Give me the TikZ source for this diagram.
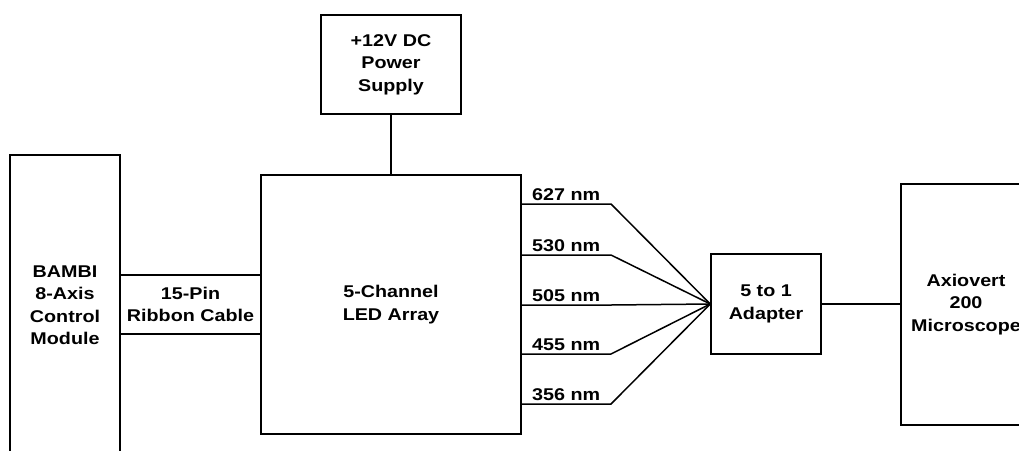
\documentclass[tikz,border=0pt]{standalone}
\usepackage{fontspec}
\setmainfont{Liberation Sans}[FakeStretch=1.16]

\tikzset{
  boite/.style={draw, line width=1.5pt, align=center, inner sep=2pt,
    font=\bfseries\fontsize{17}{22.5}\selectfont},
  onde/.style={inner sep=0pt, font=\bfseries\fontsize{17}{22.5}\selectfont},
  fil/.style={line width=1.5pt}
}

\begin{document}
\begin{tikzpicture}[x=1pt, y=-1pt]
            % Cadre
            \useasboundingbox (0,0) rectangle (1019,450);
            \clip (0,0) rectangle (1019,450);

            % Modules
            \node[boite, minimum width=110pt, minimum height=300pt] (bambi) at (65,305) {BAMBI\\8-Axis\\Control\\Module};
            \node[boite, minimum width=141pt, minimum height=59pt] (ruban) at (190.5,304.5) {15-Pin\\Ribbon Cable};
            \node[boite, minimum width=260pt, minimum height=259pt] (led) at (391,304.5) {5-Channel\\LED Array};
            \node[boite, minimum width=140pt, minimum height=99pt] (alim) at (391,64.5) {+12V DC\\Power\\Supply};
            \node[boite, minimum width=110pt, minimum height=100pt] (adapt) at (766,304) {5 to 1\\Adapter};
            \node[boite, minimum width=130pt, minimum height=241pt] (micro) at (966,304.5) {Axiovert\\200\\Microscope};

            % Alimentation
            \draw[fil] (alim.south) -- (led.north);

            % Fibres et longueurs d'onde
            \foreach \y/\lab [count=\i] in {204/627, 255/530, 305/505, 354/455, 404/356} {
              \coordinate (w\i) at (521,\y);
              \coordinate (b\i) at (611,\y);
              \draw[fil] (w\i) -- (b\i) -- (adapt.west);
              \node[onde, anchor=base west] (l\i) at (532,\y-4) {\lab{} nm};
            }

            % Sortie vers le microscope
            \draw[fil] (adapt.east) -- (adapt.east -| micro.west);
\end{tikzpicture}
\end{document}
